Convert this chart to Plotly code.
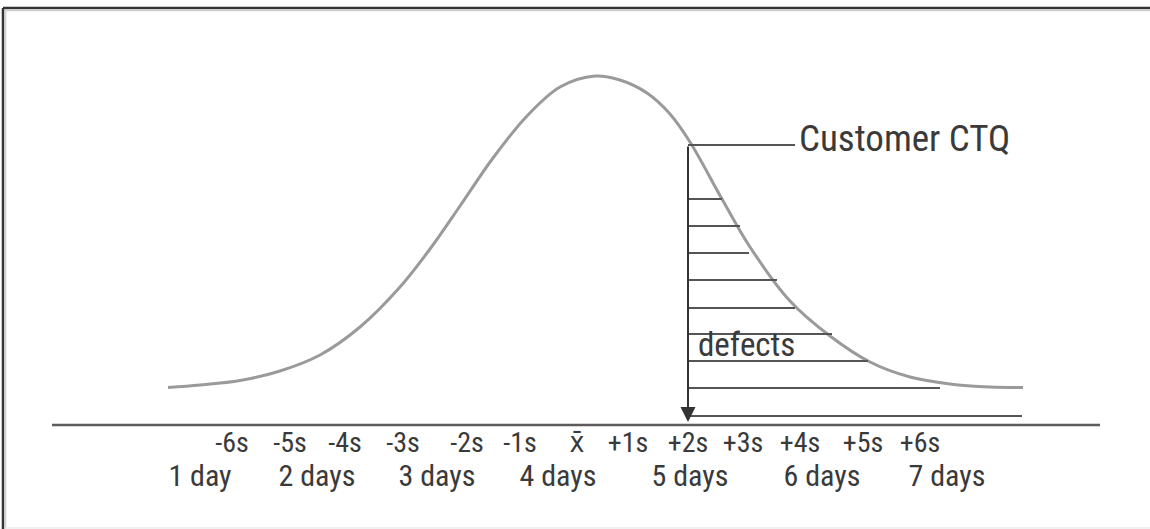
import plotly.graph_objects as go

# ---- data (diagram units: x = horizontal position, h = height above the baseline) ----
curve_x = [168, 200, 240, 280, 320, 360, 400, 430, 460, 493, 527, 560, 595,
           620, 647, 670, 690, 722, 750, 790, 830, 870, 910, 950, 990, 1023]
curve_h = [37.5, 40, 44.5, 54, 70, 98, 138, 176, 219, 267, 309, 338, 349,
           345, 332, 311, 283, 226, 178, 124, 89, 63, 48, 41, 38, 37.5]

ctq_x = 688
ctq_h = 280
ctq_label_x = 795

hatch_h = [226, 199, 172, 145, 117, 91, 64, 37, 9]
hatch_end = [722, 740, 749, 777, 795, 832, 868, 940, 1022]

baseline_x = [52, 1100]

sigma_labels = ["-6s", "-5s", "-4s", "-3s", "-2s", "-1s", "x\u0304", "+1s",
                "+2s", "+3s", "+4s", "+5s", "+6s"]
sigma_pos = [232, 290, 345, 403, 467, 520, 577, 628, 688, 743, 800, 863, 920]

day_labels = ["1 day", "2 days", "3 days", "4 days", "5 days", "6 days", "7 days"]
day_pos = [200, 317, 437, 558, 690, 822, 947]

FONT = "Liberation Sans Narrow, Arial Narrow, Roboto Condensed, DejaVu Sans Condensed, sans-serif"
DARK = "#3a3a3a"

fig = go.Figure()

# normal curve
fig.add_trace(go.Scatter(x=curve_x, y=curve_h, mode="lines",
                         line=dict(color="#9a9a9a", width=3, shape="spline", smoothing=1.0),
                         hoverinfo="skip"))

# baseline
fig.add_trace(go.Scatter(x=baseline_x, y=[0, 0], mode="lines",
                         line=dict(color="#5a5a5a", width=2.5), hoverinfo="skip"))

# hatch lines (defects area)
for h, xe in zip(hatch_h, hatch_end):
    fig.add_trace(go.Scatter(x=[ctq_x, xe], y=[h, h], mode="lines",
                             line=dict(color="#555555", width=2), hoverinfo="skip"))

# CTQ horizontal leader
fig.add_trace(go.Scatter(x=[ctq_x, ctq_label_x], y=[ctq_h, ctq_h], mode="lines",
                         line=dict(color="#555555", width=2), hoverinfo="skip"))

# CTQ vertical arrow
fig.add_annotation(x=ctq_x, y=3, ax=ctq_x, ay=ctq_h, xref="x", yref="y",
                   axref="x", ayref="y", text="", showarrow=True,
                   arrowhead=2, arrowsize=1.5, arrowwidth=2, arrowcolor="#333333")

# texts
fig.add_trace(go.Scatter(x=[ctq_label_x + 4], y=[ctq_h + 3], mode="text",
                         text=["Customer CTQ"], textposition="middle right",
                         textfont=dict(family=FONT, size=37, color=DARK), hoverinfo="skip"))
fig.add_trace(go.Scatter(x=[698], y=[77], mode="text",
                         text=["defects"], textposition="middle right",
                         textfont=dict(family=FONT, size=33, color=DARK), hoverinfo="skip"))
fig.add_trace(go.Scatter(x=sigma_pos, y=[-20] * len(sigma_pos), mode="text",
                         text=sigma_labels, textposition="middle center",
                         textfont=dict(family=FONT, size=28, color=DARK), hoverinfo="skip"))
fig.add_trace(go.Scatter(x=day_pos, y=[-53] * len(day_pos), mode="text",
                         text=day_labels, textposition="middle center",
                         textfont=dict(family=FONT, size=30, color=DARK), hoverinfo="skip"))

# frame (top and left dark edges, faint bottom edge); right edge is open
W, H = 1150, 529
shapes = [
    dict(type="rect", xref="paper", yref="paper", x0=1130 / W, x1=1.02, y0=-0.02, y1=1 - 12 / H,
         fillcolor="white", line=dict(width=0), layer="above"),
    dict(type="line", xref="paper", yref="paper", x0=3 / W, x1=1.02, y0=1 - 8 / H, y1=1 - 8 / H,
         line=dict(color="#333333", width=2.5)),
    dict(type="line", xref="paper", yref="paper", x0=5 / W, x1=1.02, y0=1 - 10.5 / H, y1=1 - 10.5 / H,
         line=dict(color="#cfcfcf", width=1.5)),
    dict(type="line", xref="paper", yref="paper", x0=3 / W, x1=3 / W, y0=-0.02, y1=1 - 8 / H,
         line=dict(color="#333333", width=2.5)),
    dict(type="line", xref="paper", yref="paper", x0=5.5 / W, x1=5.5 / W, y0=-0.02, y1=1 - 10 / H,
         line=dict(color="#cfcfcf", width=1.5)),
    dict(type="line", xref="paper", yref="paper", x0=5 / W, x1=1.02, y0=1 / H, y1=1 / H,
         line=dict(color="#ececec", width=1.5)),
]

fig.update_layout(
    width=W, height=H, margin=dict(l=0, r=0, t=0, b=0),
    paper_bgcolor="white", plot_bgcolor="white", showlegend=False,
    xaxis=dict(range=[0, W], visible=False, fixedrange=True),
    yaxis=dict(range=[425 - H, 425], visible=False, fixedrange=True),
    shapes=shapes,
)

fig.write_html("out.html", config={"displayModeBar": False, "responsive": False},
               post_script=("document.documentElement.style.overflow='hidden';"
                            "document.documentElement.style.background='white';"
                            "document.body.style.margin='0';"
                            "document.body.style.overflow='hidden';"))
